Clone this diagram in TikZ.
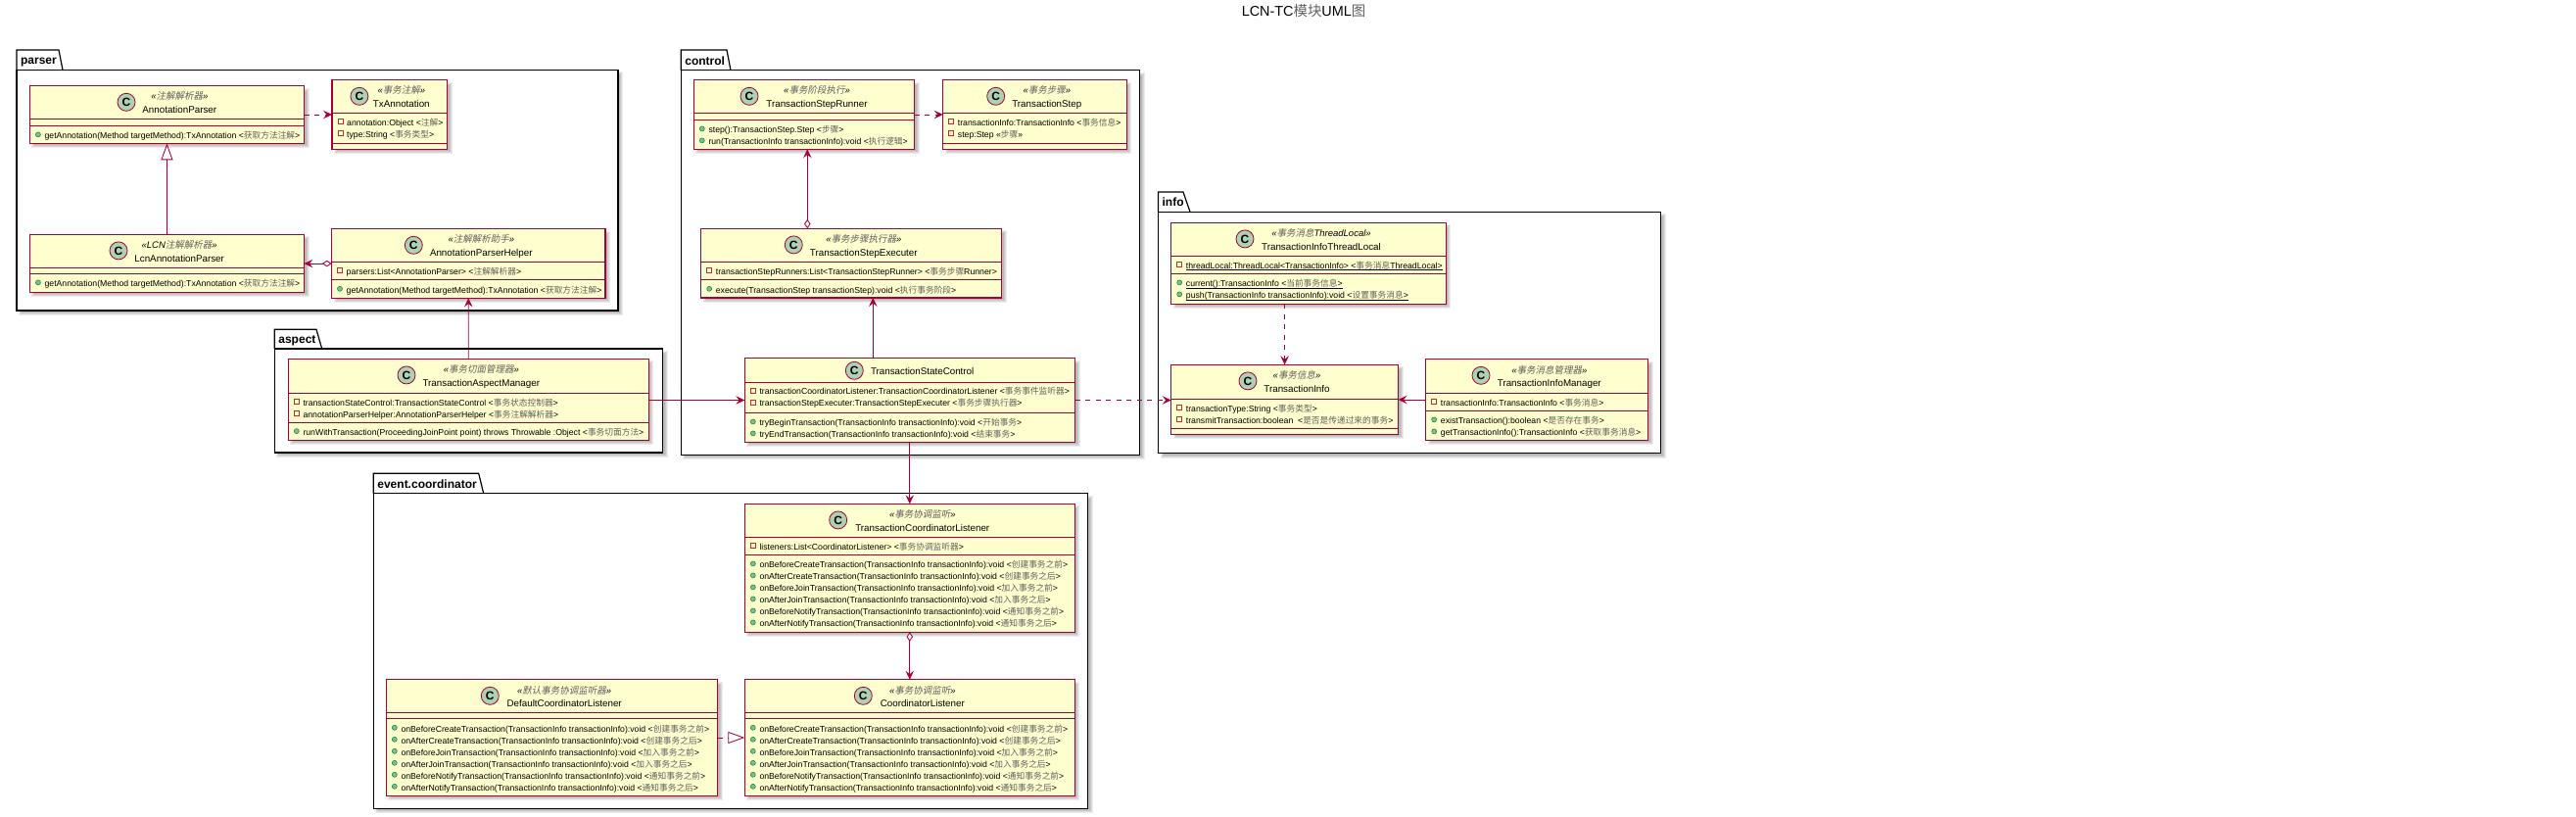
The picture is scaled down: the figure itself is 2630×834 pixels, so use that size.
\documentclass[tikz,border=0pt]{standalone}
\usepackage{fontspec}
\setmainfont{Liberation Sans}
\newfontfamily\cjkup{Noto Sans CJK SC}
\newfontfamily\cjkit[FakeSlant=0.2]{Noto Sans CJK SC}
\usetikzlibrary{arrows.meta}
\definecolor{clsline}{HTML}{A80036}
\definecolor{clsfill}{HTML}{FEFECE}
\definecolor{spotfill}{HTML}{ADD1B2}
\definecolor{methfill}{HTML}{84BE84}
\definecolor{methline}{HTML}{038048}
\definecolor{attrline}{HTML}{C82930}
\newcommand\zh[1]{{\cjkup\color{black!62}#1}}
\newcommand\zhs[1]{{\cjkit\color{black!62}#1}}
\newcommand\ulrow[1]{\setbox0\hbox{#1}\rlap{\rule[-1.7pt]{\wd0}{.7pt}}\box0 }
\newcounter{autonode}
\newcommand\softsh[4]{\foreach \d in {1.5,0.5,-0.5,-1.5}{\fill[black,opacity=.075] ({#1+3.5-(\d)},{#2+3.5-(\d)}) rectangle ({#3+3.5+(\d)},{#4+3.5+(\d)});}}
% package: id, label, left, tabtop, tabright-top, tabright-bottom, bodytop, right, bottom
\newcommand\pkg[9]{%
  \softsh{#3}{#7}{#8}{#9}%
  \fill[white] (#3,#4) -- (#5,#4) -- (#6,#7) -- (#8,#7) -- (#8,#9) -- (#3,#9) -- cycle;
  \draw[pkgline] (#3,#7) -- (#3,#4) -- (#5,#4) -- (#6,#7);
  \draw[pkgline] (#3,#7) rectangle (#8,#9);
  \node[pkglabel] (#1) at ({#3+3.9},{#7-5.4}) {#2};}
% class box: id, x1, y1, x2, y2, s1, s2
\newcommand\classbox[7]{%
  \softsh{#2}{#3}{#4}{#5}%
  \node[clsbox,minimum width={(#4-#2)*1pt},minimum height={(#5-#3)*1pt}] (#1) at ({(#2+#4)/2},{(#3+#5)/2}) {};
  \draw[clsedge] (#2,#6) -- (#4,#6);
  \draw[clsedge] (#2,#7) -- (#4,#7);
  \def\curL{#2}\def\curT{#3}%
  \pgfmathsetmacro\rowY{#6+9.7}\pgfmathsetmacro\methY{#7+10.4}}
% header: spot x, text centre x, stereotype, name
\newcommand\classhead[4]{%
  \stepcounter{autonode}%
  \node[spot] (n\arabic{autonode}) at ({#1},{\curT+16.6}) {C};
  \stepcounter{autonode}%
  \node[stereo] (n\arabic{autonode}) at ({#2},{\curT+14.3}) {#3};
  \stepcounter{autonode}%
  \node[clsname] (n\arabic{autonode}) at ({#2},{\curT+27.8}) {#4};}
\newcommand\classheadplain[3]{%
  \stepcounter{autonode}%
  \node[spot] (n\arabic{autonode}) at ({#1},{\curT+12.6}) {C};
  \stepcounter{autonode}%
  \node[clsname] (n\arabic{autonode}) at ({#2},{\curT+17}) {#3};}
\newcommand\attr[1]{%
  \draw[attrline,line width=.75pt] ({\curL+6.1},{\rowY-3.6}) rectangle ({\curL+10.9},{\rowY+1.2});
  \stepcounter{autonode}%
  \node[member] (n\arabic{autonode}) at ({\curL+15},{\rowY+3.1}) {#1};
  \pgfmathsetmacro\rowY{\rowY+12}}
\newcommand\meth[1]{%
  \filldraw[fill=methfill,draw=methline,line width=.5pt] ({\curL+8.5},{\methY-1.3}) circle[radius=2.5];
  \stepcounter{autonode}%
  \node[member] (n\arabic{autonode}) at ({\curL+15},{\methY+3.1}) {#1};
  \pgfmathsetmacro\methY{\methY+12}}
\newcommand\sixmeths{%
  \meth{onBeforeCreateTransaction(TransactionInfo transactionInfo):void <\zh{创建事务之前}>}
  \meth{onAfterCreateTransaction(TransactionInfo transactionInfo):void <\zh{创建事务之后}>}
  \meth{onBeforeJoinTransaction(TransactionInfo transactionInfo):void <\zh{加入事务之前}>}
  \meth{onAfterJoinTransaction(TransactionInfo transactionInfo):void <\zh{加入事务之后}>}
  \meth{onBeforeNotifyTransaction(TransactionInfo transactionInfo):void <\zh{通知事务之前}>}
  \meth{onAfterNotifyTransaction(TransactionInfo transactionInfo):void <\zh{通知事务之后}>}}
\tikzset{
  pkgline/.style={draw=black,line width=1.2pt},
  pkglabel/.style={anchor=base west,inner sep=0pt,font=\fontsize{12}{13}\selectfont\bfseries},
  clsbox/.style={draw=clsline,fill=clsfill,line width=1.05pt,inner sep=0pt,outer sep=0pt},
  clsedge/.style={draw=clsline,line width=1pt},
  spot/.style={circle,draw=clsline,fill=spotfill,line width=.8pt,minimum size=18pt,inner sep=0pt,font=\fontsize{12}{13}\selectfont\bfseries},
  stereo/.style={anchor=base,inner sep=0pt,font=\fontsize{9.5}{11}\selectfont\itshape},
  clsname/.style={anchor=base,inner sep=0pt,font=\fontsize{9.8}{11}\selectfont},
  member/.style={anchor=base west,inner sep=0pt,font=\fontsize{8.7}{10}\selectfont},
  rel/.style={draw=clsline,line width=.85pt,-{Stealth[length=9pt,width=8.5pt,inset=3.5pt,fill=clsline]}},
  dep/.style={rel,dash pattern=on 5pt off 5.5pt},
  agg/.style={draw=clsline,line width=.85pt,{Diamond[open,fill=white,length=9.5pt,width=6.5pt]}-{Stealth[length=9pt,width=8.5pt,inset=3.5pt,fill=clsline]}},
  inh/.style={draw=clsline,line width=.85pt,-{Triangle[open,fill=white,length=17pt,width=12pt]}},
  real/.style={inh,dash pattern=on 5.5pt off 5pt},
  titletext/.style={inner sep=0pt,font=\fontsize{14.4}{16}\selectfont},
}
\begin{document}
\begin{tikzpicture}[x=1pt,y=-1pt]
\useasboundingbox (0,0) rectangle (2630,834);
\fill[white] (0,0) rectangle (2630,834);
\node[titletext] (title) at (1331,11.5) {LCN-TC\zh{模块}UML\zh{图}};

\pkg{pparser}{parser}{17}{51}{60}{64}{71.3}{631}{317}
\pkg{paspect}{aspect}{280.3}{336.3}{323}{328.7}{356}{676.7}{462}
\pkg{pcontrol}{control}{695.3}{51}{742}{746}{71.7}{1163.7}{464.3}
\pkg{pinfo}{info}{1182.5}{196}{1208}{1215}{216.3}{1695.7}{462.7}
\pkg{pevent}{event.coordinator}{381.3}{483.3}{488.7}{493.7}{503.7}{1110.7}{825.3}

% parser
\classbox{ap}{30.4}{87.7}{310.5}{146.3}{121.3}{128.3}
\classhead{129}{183.3}{«\zhs{注解解析器}»}{AnnotationParser}
\meth{getAnnotation(Method targetMethod):TxAnnotation <\zh{获取方法注解}>}

\classbox{tx}{339}{81.7}{456.5}{152.3}{115.3}{146.3}
\classhead{366.9}{409.8}{«\zhs{事务注解}»}{TxAnnotation}
\attr{annotation:Object <\zh{注解}>}
\attr{type:String <\zh{事务类型}>}

\classbox{lcn}{30.4}{239.3}{310.5}{298.3}{273.3}{279.3}
\classhead{121}{183.2}{«LCN\zhs{注解解析器}»}{LcnAnnotationParser}
\meth{getAnnotation(Method targetMethod):TxAnnotation <\zh{获取方法注解}>}

\classbox{helper}{338.5}{233.7}{618}{304.4}{267.3}{285.7}
\classhead{422.3}{491.3}{«\zhs{注解解析助手}»}{AnnotationParserHelper}
\attr{parsers:List<AnnotationParser> <\zh{注解解析器}>}
\meth{getAnnotation(Method targetMethod):TxAnnotation <\zh{获取方法注解}>}

% aspect
\classbox{mgr}{294.3}{366.3}{662.3}{449.3}{401.7}{431}
\classhead{415}{491.3}{«\zhs{事务切面管理器}»}{TransactionAspectManager}
\attr{transactionStateControl:TransactionStateControl <\zh{事务状态控制器}>}
\attr{annotationParserHelper:AnnotationParserHelper <\zh{事务注解解析器}>}
\meth{runWithTransaction(ProceedingJoinPoint point) throws Throwable :Object <\zh{事务切面方法}>}

% control
\classbox{runner}{708.3}{81.7}{933.7}{152.3}{115.3}{122.3}
\classhead{765}{834}{«\zhs{事务阶段执行}»}{TransactionStepRunner}
\meth{step():TransactionStep.Step <\zh{步骤}>}
\meth{run(TransactionInfo transactionInfo):void <\zh{执行逻辑}>}

\classbox{tstep}{962.7}{81.7}{1150.3}{152.3}{115.3}{146.3}
\classhead{1016.7}{1068.8}{«\zhs{事务步骤}»}{TransactionStep}
\attr{transactionInfo:TransactionInfo <\zh{事务信息}>}
\attr{step:Step «\zh{步骤}»}

\classbox{exec}{715.7}{233.3}{1022.7}{304}{267.5}{285.7}
\classhead{810.3}{881.8}{«\zhs{事务步骤执行器}»}{TransactionStepExecuter}
\attr{transactionStepRunners:List<TransactionStepRunner> <\zh{事务步骤}Runner>}
\meth{execute(TransactionStep transactionStep):void <\zh{执行事务阶段}>}

\classbox{ctrl}{760.3}{365.7}{1097.7}{451.3}{390}{421.3}
\classheadplain{872.3}{941.7}{TransactionStateControl}
\attr{transactionCoordinatorListener:TransactionCoordinatorListener <\zh{事务事件监听器}>}
\attr{transactionStepExecuter:TransactionStepExecuter <\zh{事务步骤执行器}>}
\meth{tryBeginTransaction(TransactionInfo transactionInfo):void <\zh{开始事务}>}
\meth{tryEndTransaction(TransactionInfo transactionInfo):void <\zh{结束事务}>}

% info
\classbox{tlocal}{1195.7}{227.3}{1476.4}{310.3}{261.3}{279.3}
\classhead{1271}{1349}{«\zhs{事务消息}ThreadLocal»}{TransactionInfoThreadLocal}
\attr{\ulrow{threadLocal:ThreadLocal<TransactionInfo> <\zh{事务消息}ThreadLocal>}}
\meth{\ulrow{current():TransactionInfo <\zh{当前事务信息}>}}
\meth{\ulrow{push(TransactionInfo transactionInfo):void <\zh{设置事务消息}>}}

\classbox{info}{1195.7}{372.3}{1427.5}{443.3}{407.7}{437.3}
\classhead{1274}{1324}{«\zhs{事务信息}»}{TransactionInfo}
\attr{transactionType:String <\zh{事务类型}>}
\attr{transmitTransaction:boolean\ \ <\zh{是否是传递过来的事务}>}

\classbox{imgr}{1455.7}{366.7}{1682.5}{449.3}{401.3}{419.3}
\classhead{1512}{1581.8}{«\zhs{事务消息管理器}»}{TransactionInfoManager}
\attr{transactionInfo:TransactionInfo <\zh{事务消息}>}
\meth{existTransaction():boolean <\zh{是否存在事务}>}
\meth{getTransactionInfo():TransactionInfo <\zh{获取事务消息}>}

% event.coordinator
\classbox{tcl}{760.3}{514.3}{1097.3}{645.3}{548.7}{566.3}
\classhead{855.7}{941.8}{«\zhs{事务协调监听}»}{TransactionCoordinatorListener}
\attr{listeners:List<CoordinatorListener> <\zh{事务协调监听器}>}
\sixmeths

\classbox{dcl}{394.3}{693.7}{732.7}{812.3}{727.7}{733.7}
\classhead{500.3}{576.2}{«\zhs{默认事务协调监听器}»}{DefaultCoordinatorListener}
\sixmeths

\classbox{cl}{760.3}{693.7}{1097.3}{812.3}{727.7}{733.7}
\classhead{881.3}{941.8}{«\zhs{事务协调监听}»}{CoordinatorListener}
\sixmeths

% connectors
\draw[dep] (ap.east) -- (tx.west);
\draw[inh] (lcn.north) -- (ap.south);
\draw[agg] (helper.west) -- (helper.west -| lcn.east);
\draw[rel] (mgr.north) -- (helper.south);
\draw[rel] (ctrl.west -| mgr.east) -- (ctrl.west);
\draw[dep] (runner.east) -- (tstep.west);
\draw[agg] ([xshift=-44.9pt]exec.north) -- ([xshift=3.3pt]runner.south);
\draw[rel] ([xshift=-37.7pt]ctrl.north) -- ([xshift=22.1pt]exec.south);
\draw[dep] (ctrl.east) -- (ctrl.east -| info.west);
\draw[dep] (tlocal.south -| info.north) -- (info.north);
\draw[rel] (imgr.west) -- (imgr.west -| info.east);
\draw[rel] (tcl.north |- ctrl.south) -- (tcl.north);
\draw[agg] (tcl.south) -- (cl.north);
\draw[real] (dcl.east) -- (cl.west);
\end{tikzpicture}
\end{document}
